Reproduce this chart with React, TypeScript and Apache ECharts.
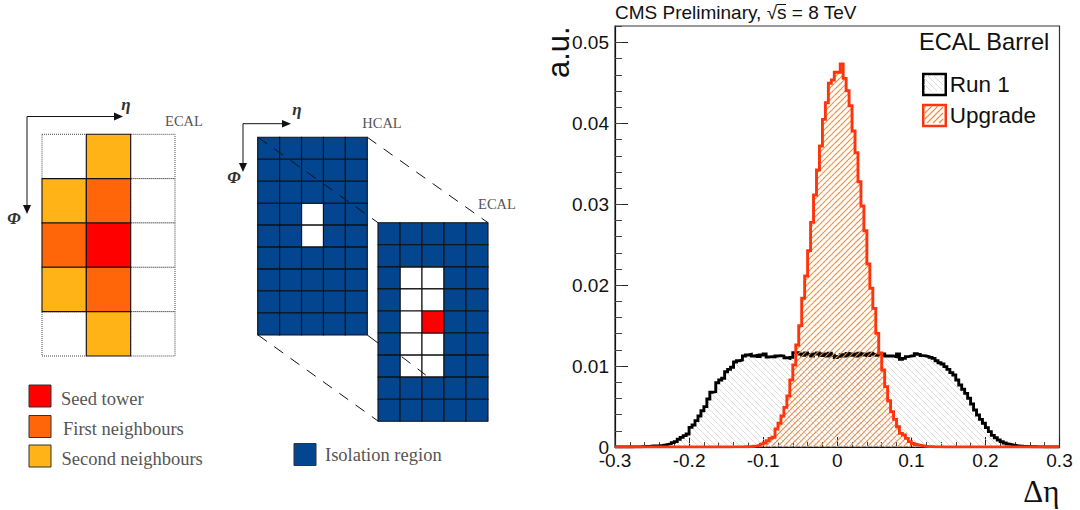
import React, { useEffect, useRef } from "react";
import * as echarts from "echarts";

// Histogram content: 150 bins of width 0.004 on [-0.3, 0.3]
const binStart = -0.3;
const binWidth = 0.004;
const run1Name = "Run 1";
const upgradeName = "Upgrade";
const run1Values = [
  0, 0, 0, 0, 0, 0, 0.00001, 0.00002, 0.00003, 0.00005,
  0.00007, 0.00009, 0.00012, 0.00014, 0.00016, 0.0002, 0.00025, 0.00033, 0.00041, 0.00054,
  0.00066, 0.00095, 0.00119, 0.0014, 0.00161, 0.00243, 0.00272, 0.00326, 0.00383, 0.00449,
  0.00499, 0.00593, 0.00676, 0.00684, 0.00795, 0.00828, 0.00849, 0.00931, 0.0096, 0.00985,
  0.01051, 0.01067, 0.01075, 0.01125, 0.01137, 0.01145, 0.01125, 0.01133, 0.01117, 0.01137,
  0.0115, 0.01113, 0.01117, 0.01113, 0.01125, 0.01129, 0.01125, 0.01104, 0.01096, 0.01108,
  0.01166, 0.01166, 0.0115, 0.01133, 0.01162, 0.01145, 0.01125, 0.0115, 0.01162, 0.0113,
  0.0115, 0.01125, 0.01158, 0.01135, 0.01105, 0.0112, 0.0114, 0.01125, 0.01155, 0.01135,
  0.0115, 0.01125, 0.0116, 0.01138, 0.0115, 0.0113, 0.01158, 0.01145, 0.01135, 0.0116,
  0.0115, 0.01125, 0.01125, 0.01125, 0.01117, 0.0115, 0.01084, 0.01096, 0.01117, 0.01125,
  0.01129, 0.01154, 0.01145, 0.01129, 0.01125, 0.01117, 0.01108, 0.01096, 0.01067, 0.01042,
  0.01026, 0.00993, 0.0096, 0.00919, 0.0089, 0.00828, 0.00766, 0.00713, 0.00663, 0.00602,
  0.00532, 0.00457, 0.00396, 0.00342, 0.00293, 0.00239, 0.0019, 0.00144, 0.00115, 0.00087,
  0.00066, 0.00049, 0.00037, 0.00029, 0.00021, 0.00016, 0.00012, 0.00009, 0.00007, 0.00005,
  0.00004, 0.00003, 0.00002, 0.00001, 0, 0, 0, 0, 0, 0,
];
const upgradeValues = [
  0, 0, 0, 0, 0, 0, 0, 0, 0, 0,
  0, 0, 0, 0, 0, 0, 0, 0, 0, 0,
  0, 0, 0, 0, 0, 0, 0, 0, 0, 0,
  0, 0, 0, 0, 0, 0, 0, 0, 0, 0.00001,
  0.00001, 0.00001, 0.00002, 0.00003, 0.00004, 0.00006, 0.0001, 0.00014, 0.00022, 0.00035,
  0.0005, 0.00078, 0.00107, 0.0012, 0.00222, 0.00293, 0.00383, 0.0049, 0.0063, 0.00828,
  0.01014, 0.01261, 0.015, 0.01838, 0.02114, 0.02427, 0.02777, 0.03115, 0.03424, 0.03721,
  0.0405, 0.04256, 0.04496, 0.04536, 0.04632, 0.04632, 0.04734, 0.04557, 0.04404, 0.04219,
  0.03906, 0.03638, 0.03279, 0.02979, 0.02674, 0.02262, 0.01962, 0.01714, 0.01405, 0.01158,
  0.00952, 0.00746, 0.00572, 0.00436, 0.00342, 0.00251, 0.00169, 0.00149, 0.00107, 0.00066,
  0.00043, 0.00031, 0.00023, 0.00015, 0.0001, 0.00007, 0.00005, 0.00003, 0.00002, 0.00001,
  0, 0, 0, 0, 0, 0, 0, 0, 0, 0,
  0, 0, 0, 0, 0, 0, 0, 0, 0, 0,
  0, 0, 0, 0, 0, 0, 0, 0, 0, 0,
  0, 0, 0, 0, 0, 0, 0, 0, 0, 0,
];

// Schematic cell maps: 0 empty, 1 seed, 2 first neighbour, 3 second neighbour, 4 isolation
const towerCells = [
  [0, 3, 0],
  [3, 2, 0],
  [2, 1, 0],
  [3, 2, 0],
  [0, 3, 0],
];
const hcalCells = [
  [4, 4, 4, 4, 4],
  [4, 4, 4, 4, 4],
  [4, 4, 4, 4, 4],
  [4, 4, 0, 4, 4],
  [4, 4, 0, 4, 4],
  [4, 4, 4, 4, 4],
  [4, 4, 4, 4, 4],
  [4, 4, 4, 4, 4],
  [4, 4, 4, 4, 4],
];
const ecalCells = [
  [4, 4, 4, 4, 4],
  [4, 4, 4, 4, 4],
  [4, 0, 0, 4, 4],
  [4, 0, 0, 4, 4],
  [4, 0, 1, 4, 4],
  [4, 0, 0, 4, 4],
  [4, 0, 0, 4, 4],
  [4, 4, 4, 4, 4],
  [4, 4, 4, 4, 4],
];
const leftLegend = ["Seed tower", "First neighbours", "Second neighbours"];
const isolationLabel = "Isolation region";

const COLORS = ["#ffffff", "#ff0000", "#ff660a", "#ffb316", "#03468f"];
const SANS = "'Liberation Sans', Arial, sans-serif";
const SERIF = "'Liberation Serif', 'Times New Roman', serif";
const ORANGE_RED = "#fe350c";
const HATCH_ORANGE = "#ff8a2a";
const HATCH_GRAY = "#d2d2d2";
const HATCH_STEP = 6;
const GRAY_TEXT = "#555555";

// Diagonal hatch lines clipped to one pixel rectangle, as an SVG path string
function hatchPath(left: number, top: number, right: number, bottom: number, forward: boolean) {
  let d = "";
  const lo = forward ? left + top : left - bottom;
  const hi = forward ? right + bottom : right - top;
  for (let k = Math.ceil(lo / HATCH_STEP); k * HATCH_STEP <= hi; k++) {
    const c = k * HATCH_STEP;
    if (forward) {
      const x1 = Math.max(left, c - bottom);
      const x2 = Math.min(right, c - top);
      d += `M${x1} ${c - x1}L${x2} ${c - x2}`;
    } else {
      const x1 = Math.max(left, c + top);
      const x2 = Math.min(right, c + bottom);
      d += `M${x1} ${x1 - c}L${x2} ${x2 - c}`;
    }
  }
  return d;
}

function histogram(values: number[]) {
  const pts = values.map((v, i) => [binStart + i * binWidth, v]);
  pts.push([binStart + values.length * binWidth, values[values.length - 1]]);
  return pts;
}

function hatchSeries(values: number[], color: string, forward: boolean, z: number, width: number) {
  return {
    type: "custom",
    xAxisIndex: 0,
    yAxisIndex: 0,
    silent: true,
    z,
    encode: { x: [0, 1], y: 2 },
    data: values.map((v, i) => [binStart + i * binWidth, binStart + (i + 1) * binWidth, v]),
    renderItem: (_p: any, api: any) => {
      const a = api.coord([api.value(0), api.value(2)]);
      const b = api.coord([api.value(1), 0]);
      const d = hatchPath(a[0], a[1], b[0], b[1], forward);
      if (!d) return null;
      return {
        type: "path",
        shape: { pathData: d },
        style: { fill: "none", stroke: color, lineWidth: width },
      };
    },
  };
}

function cellData(cells: number[][]) {
  const out: number[][] = [];
  cells.forEach((row, r) => row.forEach((k, c) => out.push([c, r, k])));
  return out.sort((a, b) => (a[2] === 0 ? 0 : 1) - (b[2] === 0 ? 0 : 1));
}

function cellSeries(cells: number[][], index: number, dotted: boolean) {
  return {
    type: "custom",
    xAxisIndex: index,
    yAxisIndex: index + 1,
    silent: true,
    clip: false,
    encode: { x: 0, y: 1 },
    data: cellData(cells),
    renderItem: (_p: any, api: any) => {
      const c = api.value(0);
      const r = api.value(1);
      const k = api.value(2);
      const a = api.coord([c, r]);
      const b = api.coord([c + 1, r + 1]);
      const thin = dotted && k === 0;
      return {
        type: "rect",
        shape: {
          x: a[0],
          y: Math.min(a[1], b[1]),
          width: b[0] - a[0],
          height: Math.abs(b[1] - a[1]),
        },
        style: {
          fill: COLORS[k],
          stroke: thin ? "#444444" : "#111111",
          lineWidth: thin ? 1 : 1.1,
          lineDash: thin ? [1, 1] : null,
        },
      };
    },
  };
}

function hiddenAxes(cols: number, rows: number, gridIndex: number) {
  return {
    x: { type: "value", show: false, gridIndex, min: 0, max: cols },
    y: { type: "value", show: false, gridIndex, min: 0, max: rows, inverse: true },
  };
}

function label(text: string, x: number, y: number, size: number, extra: any = {}) {
  return {
    type: "text",
    z: 20,
    silent: true,
    style: {
      text,
      x,
      y,
      fontFamily: SERIF,
      fontSize: size,
      fill: GRAY_TEXT,
      align: "left",
      verticalAlign: "middle",
      ...extra,
    },
  };
}

function segment(x1: number, y1: number, x2: number, y2: number, dashed = false) {
  return {
    type: "line",
    z: 20,
    silent: true,
    shape: { x1, y1, x2, y2 },
    style: { stroke: "#111111", lineWidth: 1, lineDash: dashed ? [11, 9] : null },
  };
}

function arrowHead(points: number[][]) {
  return {
    type: "polygon",
    z: 20,
    silent: true,
    shape: { points },
    style: { fill: "#111111" },
  };
}

function swatch(x: number, y: number, kind: number) {
  return {
    type: "rect",
    z: 20,
    silent: true,
    shape: { x, y, width: 22, height: 22 },
    style: { fill: COLORS[kind], stroke: "#333333", lineWidth: 1 },
  };
}

// Hatch inside a legend key: short clipped diagonals drawn over the legend's outline
function keyHatch(left: number, top: number, right: number, bottom: number, color: string, forward: boolean, width: number) {
  const lines: any[] = [];
  const lo = forward ? left + top : left - bottom;
  const hi = forward ? right + bottom : right - top;
  const step = 6;
  for (let k = Math.ceil(lo / step); k * step <= hi; k++) {
    const c = k * step;
    const x1 = forward ? Math.max(left, c - bottom) : Math.max(left, c + top);
    const x2 = forward ? Math.min(right, c - top) : Math.min(right, c + bottom);
    const y1 = forward ? c - x1 : x1 - c;
    const y2 = forward ? c - x2 : x2 - c;
    lines.push({
      type: "line",
      z: 20,
      silent: true,
      shape: { x1, y1, x2, y2 },
      style: { stroke: color, lineWidth: width },
    });
  }
  return lines;
}

const glyph = { fontWeight: "bold", fontStyle: "italic", fill: "#333333", align: "center" };

export default function App() {
  const ref = useRef<HTMLDivElement>(null);

  useEffect(() => {
    document.body.style.margin = "0";
    const chart = echarts.init(ref.current!, null, { renderer: "svg" });
    const ax1 = hiddenAxes(3, 5, 1);
    const ax2 = hiddenAxes(5, 9, 2);
    const ax3 = hiddenAxes(5, 9, 3);

    chart.setOption({
      animation: false,
      backgroundColor: "#ffffff",
      title: {
        text: "CMS Preliminary, √s = 8 TeV",
        left: 615,
        top: 3,
        padding: 0,
        textStyle: { fontFamily: SANS, fontSize: 19, fontWeight: "normal", color: "#111111" },
      },
      legend: {
        orient: "vertical",
        left: 922,
        top: 72.5,
        padding: 0,
        itemWidth: 22.5,
        itemHeight: 21,
        itemGap: 7,
        selectedMode: false,
        textStyle: { fontFamily: SANS, fontSize: 22.5, lineHeight: 20, color: "#111111", padding: [0, 0, 4, -1] },
        data: [
          {
            name: run1Name,
            icon: "rect",
            itemStyle: { color: "rgba(255,255,255,0)", borderColor: "#000000", borderWidth: 2.5 },
          },
          {
            name: upgradeName,
            icon: "rect",
            itemStyle: { color: "rgba(255,255,255,0)", borderColor: ORANGE_RED, borderWidth: 2.5 },
          },
        ],
      },
      grid: [
        { left: 615, top: 26, width: 444.5, height: 421, show: true, outerBoundsMode: "none", borderColor: "#333333", borderWidth: 1.2, backgroundColor: "transparent" },
        { left: 42, top: 134.3, width: 133, height: 221.7, outerBoundsMode: "none" },
        { left: 257.7, top: 137.3, width: 109.6, height: 197.7, outerBoundsMode: "none" },
        { left: 378, top: 222.7, width: 110, height: 198.6, outerBoundsMode: "none" },
      ],
      xAxis: [
        {
          type: "value",
          gridIndex: 0,
          min: -0.3,
          max: 0.3,
          interval: 0.1,
          splitLine: { show: false },
          axisLine: { show: true, onZero: false, lineStyle: { color: "#111111", width: 1.2 } },
          axisTick: { show: true, inside: true, length: 10, lineStyle: { color: "#222222", width: 1 } },
          minorTick: { show: true, splitNumber: 5, length: 5, lineStyle: { color: "#444444", width: 1 } },
          axisLabel: { margin: 4, fontFamily: SANS, fontSize: 19, color: "#111111" },
          name: "Δη",
          nameLocation: "end",
          nameGap: 0,
          nameMoveOverlap: false,
          nameTextStyle: {
            fontFamily: SERIF,
            fontSize: 31,
            color: "#111111",
            align: "right",
            verticalAlign: "top",
            padding: [29, 0, 0, 0],
          },
        },
        ax1.x,
        ax2.x,
        ax3.x,
      ],
      yAxis: [
        {
          type: "value",
          gridIndex: 0,
          min: 0,
          max: 0.05204,
          interval: 0.01,
          splitLine: { show: false },
          axisLine: { show: true, onZero: false, lineStyle: { color: "#111111", width: 1.2 } },
          axisTick: { show: true, inside: true, length: 13, lineStyle: { color: "#222222", width: 1 } },
          axisLabel: { margin: 6, showMaxLabel: false, fontFamily: SANS, fontSize: 19, color: "#111111" },
          name: "a.u.",
          nameLocation: "end",
          nameRotate: 90,
          nameGap: -52,
          nameMoveOverlap: false,
          nameTextStyle: {
            fontFamily: SANS,
            fontSize: 31,
            color: "#111111",
            align: "left",
            verticalAlign: "bottom",
            padding: [0, 0, 41, 0],
          },
        },
        {
          type: "value",
          gridIndex: 0,
          position: "left",
          min: 0,
          max: 0.05204,
          interval: 0.002,
          splitLine: { show: false },
          axisLine: { show: false, onZero: false },
          axisLabel: { show: false },
          axisTick: { show: true, inside: true, length: 7, lineStyle: { color: "#444444", width: 1 } },
        },
        ax1.y,
        ax2.y,
        ax3.y,
      ],
      series: [
        hatchSeries(run1Values, HATCH_GRAY, false, 2, 0.8),
        {
          name: run1Name,
          type: "line",
          xAxisIndex: 0,
          yAxisIndex: 0,
          step: "end",
          symbol: "none",
          z: 3,
          data: histogram(run1Values),
          itemStyle: { color: "#000000" },
          lineStyle: { color: "#000000", width: 2.9, join: "miter" },
        },
        hatchSeries(upgradeValues, HATCH_ORANGE, true, 4, 1.1),
        {
          name: upgradeName,
          type: "line",
          xAxisIndex: 0,
          yAxisIndex: 0,
          step: "end",
          symbol: "none",
          z: 5,
          data: histogram(upgradeValues),
          itemStyle: { color: ORANGE_RED },
          lineStyle: { color: ORANGE_RED, width: 2.9, join: "miter" },
        },
        cellSeries(towerCells, 1, true),
        cellSeries(hcalCells, 2, false),
        cellSeries(ecalCells, 3, false),
      ],
      graphic: [
        // Chart annotations
        {
          type: "text",
          z: 20,
          silent: true,
          style: {
            text: "ECAL Barrel",
            x: 919,
            y: 42,
            fontFamily: SANS,
            fontSize: 23.6,
            fill: "#111111",
            align: "left",
            verticalAlign: "middle",
          },
        },
        segment(777, 4.5, 786, 4.5),
        ...keyHatch(924, 75, 943, 91, HATCH_GRAY, false, 0.8),
        ...keyHatch(924, 106, 943, 123, HATCH_ORANGE, true, 1.1),
        // Left schematic
        segment(27, 116.5, 116, 116.5),
        arrowHead([[114, 112.5], [123, 116.5], [114, 120.5]]),
        segment(27, 116.5, 27, 206),
        arrowHead([[23, 205], [27, 214], [31, 205]]),
        label("η", 126, 104, 17, glyph),
        label("Φ", 14, 218, 17, glyph),
        label("ECAL", 184, 120.5, 14.5, { align: "center" }),
        swatch(29, 385, 1),
        swatch(29, 415.5, 2),
        swatch(29, 445, 3),
        label(leftLegend[0], 61, 399, 18.5),
        label(leftLegend[1], 63, 429, 18.5),
        label(leftLegend[2], 61.5, 459, 18.5),
        // Right schematic
        segment(243, 123.7, 284, 123.7),
        arrowHead([[282, 120], [291, 123.7], [282, 127.4]]),
        segment(243, 123.7, 243, 164),
        arrowHead([[239, 163], [243, 172], [247, 163]]),
        label("η", 297, 109, 17, glyph),
        label("Φ", 234, 177, 17, glyph),
        label("HCAL", 382, 123, 14.5, { align: "center" }),
        label("ECAL", 497, 204, 14.5, { align: "center" }),
        segment(258, 137.3, 378, 222.7, true),
        segment(367.3, 137.3, 488, 222.7, true),
        segment(258, 335, 378, 421, true),
        segment(367.3, 335, 378, 343),
        segment(401.7, 356.7, 425.7, 375, true),
        swatch(294, 443.5, 4),
        label(isolationLabel, 325, 455, 18.5),
      ],
    });
    return () => chart.dispose();
  }, []);

  return (
    <div
      ref={ref}
      style={{ position: "absolute", left: 0, top: 0, width: 1080, height: 510, overflow: "hidden" }}
    />
  );
}
